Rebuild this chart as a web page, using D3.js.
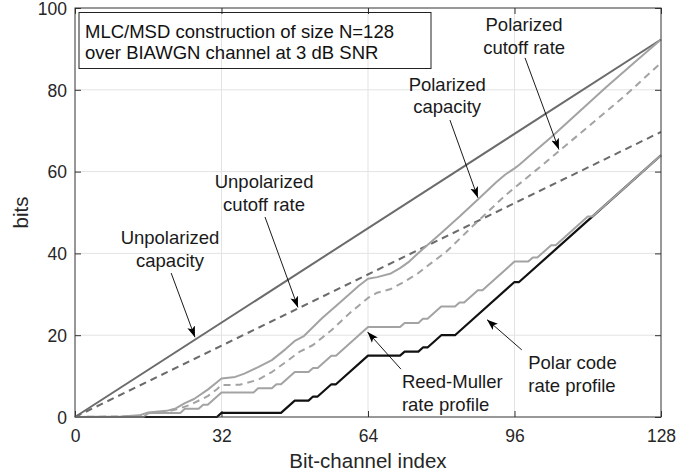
<!DOCTYPE html>
<html>
<head>
<meta charset="utf-8">
<script src="https://cdn.jsdelivr.net/npm/d3@7"></script>
<style>
  body { margin: 0; background: #fff; }
  text { font-family: "Liberation Sans", Arial, Helvetica, sans-serif; }
</style>
</head>
<body>
<div class="mainDiv"></div>
<script>
// tick labels
const xTicks = [0, 32, 64, 96, 128];
const yTicks = [0, 20, 40, 60, 80, 100];

// series, [bit-channel index, bits]
const unpolCapacity = [[0, 0], [128, 92.3]];
const unpolCutoff = [[0, 0], [128, 69.7]];
const polCapacity = [[0, 0], [10, 0.1], [14, 0.4], [16, 1.1], [20, 1.5], [22, 2.1], [24, 3.4], [26, 4.4],
  [29, 6.7], [31, 8.5], [32, 9.4], [35, 9.8], [37, 10.6], [40, 12.2], [43, 13.9], [46, 16.6], [48, 18.6],
  [50, 19.8], [54, 24.2], [58, 28.1], [62, 32.1], [64, 33.8], [66, 34.2], [69, 35.1], [71, 36.4], [73, 38],
  [75, 40.1], [80, 45], [84, 49], [88, 53.2], [92, 57.4], [94, 59.3], [96, 60.8], [97, 61.6], [101, 65.5],
  [104, 68.4], [110, 74.5], [116, 80.6], [122, 86.5], [128, 92.3]];
const polCutoff = [[0, 0], [14, 0.2], [16, 0.9], [20, 1.3], [22, 1.8], [25, 2.9], [29, 5.1], [31, 6.8],
  [32, 7.8], [36, 7.9], [40, 9.1], [43, 11], [46, 13.4], [49, 15.9], [52, 17.6], [56, 21.2], [60, 25.4],
  [64, 29.1], [66, 30.4], [69, 31.3], [72, 33.1], [75, 35.2], [78, 37.8], [81, 40.3], [87, 46.8],
  [94, 54.2], [101, 60.6], [107, 66.2], [114, 72.8], [120, 78.4], [128, 86.6]];
const rmProfile = [[0, 0], [15, 0], [16, 1], [23, 1], [24, 2], [27, 2], [28, 3], [29, 3], [32, 6], [39, 6],
  [40, 7], [43, 7], [44, 8], [45, 8], [48, 11], [51, 11], [52, 12], [53, 12], [56, 15], [57, 15], [64, 22],
  [71, 22], [72, 23], [75, 23], [76, 24], [77, 24], [80, 27], [83, 27], [84, 28], [85, 28], [88, 31],
  [89, 31], [96, 38], [99, 38], [100, 39], [101, 39], [104, 42], [105, 42], [112, 49], [113, 49], [128, 64]];
const polarProfile = [[0, 0], [31, 0], [32, 1], [45, 1], [48, 4], [51, 4], [52, 5], [53, 5], [56, 8],
  [57, 8], [64, 15], [71, 15], [72, 16], [75, 16], [76, 17], [77, 17], [80, 20], [83, 20], [96, 33],
  [97, 33], [112, 48], [113, 49], [128, 64]];

const boxLines = ["MLC/MSD construction of size N=128", "over BIAWGN channel at 3 dB SNR"];

const width = 694, height = 476;
const margin = { top: 8, right: 33, bottom: 59, left: 75 };
const fontSize = 18.5;
const tickFont = 17.5;

const svg = d3.select('.mainDiv').append('svg')
  .attr('width', width).attr('height', height);

const x = d3.scaleLinear().domain([0, 128]).range([margin.left, width - margin.right]);
const y = d3.scaleLinear().domain([0, 100]).range([height - margin.bottom, margin.top]);

// grid
svg.append('g').selectAll('line')
  .data(xTicks.slice(1, -1))
  .join('line')
  .attr('x1', d => x(d)).attr('x2', d => x(d))
  .attr('y1', y(0)).attr('y2', y(100))
  .attr('stroke', '#e3e3e3').attr('stroke-width', 1);
svg.append('g').selectAll('line')
  .data(yTicks.slice(1, -1))
  .join('line')
  .attr('x1', x(0)).attr('x2', x(128))
  .attr('y1', d => y(d)).attr('y2', d => y(d))
  .attr('stroke', '#e3e3e3').attr('stroke-width', 1);

// axes, ticks pointing inward
const axisColor = '#333';
function styleAxis(g) {
  g.select('.domain').remove();
  g.selectAll('.tick line').attr('stroke', axisColor);
  g.selectAll('.tick text')
    .attr('fill', '#262626')
    .style('font-size', tickFont + 'px')
    .style('font-family', '"Liberation Sans", Arial, sans-serif');
}
svg.append('g')
  .attr('transform', `translate(0,${y(0)})`)
  .call(d3.axisBottom(x).tickValues(xTicks).tickSizeInner(-6).tickSizeOuter(0).tickPadding(13))
  .call(styleAxis);
svg.append('g')
  .attr('transform', `translate(${x(0)},0)`)
  .call(d3.axisLeft(y).tickValues(yTicks).tickSizeInner(-6).tickSizeOuter(0).tickPadding(8))
  .call(styleAxis)
  .selectAll('.tick text').attr('dy', '0.36em');
svg.append('g')
  .attr('transform', `translate(0,${y(100)})`)
  .call(d3.axisTop(x).tickValues(xTicks).tickSizeInner(-6).tickSizeOuter(0).tickFormat(''))
  .call(styleAxis);
svg.append('g')
  .attr('transform', `translate(${x(128)},0)`)
  .call(d3.axisRight(y).tickValues(yTicks).tickSizeInner(-6).tickSizeOuter(0).tickFormat(''))
  .call(styleAxis);

// curves
const line = d3.line().x(d => x(d[0])).y(d => y(d[1]));
const series = [
  { data: unpolCapacity, color: '#6b6b6b', dash: null, w: 2 },
  { data: unpolCutoff, color: '#6b6b6b', dash: '7,5', w: 2 },
  { data: polCapacity, color: '#a3a3a3', dash: null, w: 2 },
  { data: polCutoff, color: '#a3a3a3', dash: '7,5', w: 2 },
  { data: polarProfile, color: '#111', dash: null, w: 2.2 },
  { data: rmProfile, color: '#a3a3a3', dash: null, w: 2 }
];
svg.append('g').selectAll('path')
  .data(series)
  .join('path')
  .attr('d', d => line(d.data))
  .attr('fill', 'none')
  .attr('stroke', d => d.color)
  .attr('stroke-width', d => d.w)
  .attr('stroke-dasharray', d => d.dash)
  .attr('stroke-linejoin', 'round');

// frame
svg.append('rect')
  .attr('x', x(0)).attr('y', y(100))
  .attr('width', x(128) - x(0)).attr('height', y(0) - y(100))
  .attr('fill', 'none').attr('stroke', axisColor).attr('stroke-width', 1);

// text box
const box = svg.append('g').attr('transform', `translate(${x(0) + 4},${y(100) + 4.5})`);
box.append('rect')
  .attr('width', 352).attr('height', 56)
  .attr('fill', 'none').attr('stroke', '#222').attr('stroke-width', 1);
box.selectAll('text')
  .data(boxLines)
  .join('text')
  .attr('x', 6).attr('y', (d, i) => 25.5 + i * 20.5)
  .style('font-size', fontSize + 'px')
  .attr('fill', '#111')
  .text(d => d);

// annotations: label position, arrow start and tip in data units
const notes = [
  { lines: ['Unpolarized', 'capacity'], at: [20.75, 42.3], anchor: 'middle', from: [21, 35.2], to: [26.2, 19.5] },
  { lines: ['Unpolarized', 'cutoff rate'], at: [41.3, 56], anchor: 'middle', from: [41.5, 48.9], to: [48.7, 26.8] },
  { lines: ['Polarized', 'capacity'], at: [81.3, 79.8], anchor: 'middle', from: [81.9, 72.6], to: [88, 53.6] },
  { lines: ['Polarized', 'cutoff rate'], at: [98.1, 94.4], anchor: 'middle', from: [98.3, 87.8], to: [105.7, 65.4] },
  { lines: ['Reed-Muller', 'rate profile'], at: [71.4, 7.0], anchor: 'start', from: [71.2, 11.7], to: [63.9, 20.8] },
  { lines: ['Polar code', 'rate profile'], at: [99, 11.7], anchor: 'start', from: [97.6, 16.4], to: [90, 23.8] }
];

svg.append('defs').append('marker')
  .attr('id', 'head')
  .attr('markerUnits', 'userSpaceOnUse')
  .attr('viewBox', '0 -5 12 10')
  .attr('refX', 11).attr('refY', 0)
  .attr('markerWidth', 12).attr('markerHeight', 10)
  .attr('orient', 'auto')
  .append('path')
  .attr('d', 'M0,-4L11,0L0,4L2.5,0Z')
  .attr('fill', '#000');

const noteG = svg.append('g').selectAll('g')
  .data(notes)
  .join('g');
noteG.append('line')
  .attr('x1', d => x(d.from[0])).attr('y1', d => y(d.from[1]))
  .attr('x2', d => x(d.to[0])).attr('y2', d => y(d.to[1]))
  .attr('stroke', '#000').attr('stroke-width', 0.9)
  .attr('marker-end', 'url(#head)');
noteG.each(function (d) {
  d3.select(this).selectAll('text')
    .data(d.lines)
    .join('text')
    .attr('x', x(d.at[0]))
    .attr('y', (t, i) => y(d.at[1]) + i * 22.7)
    .attr('text-anchor', d.anchor)
    .style('font-size', fontSize + 'px')
    .attr('fill', '#1a1a1a')
    .text(t => t);
});

// axis labels
svg.append('text')
  .attr('x', (x(0) + x(128)) / 2).attr('y', 467.5)
  .attr('text-anchor', 'middle')
  .style('font-size', '20.5px')
  .attr('fill', '#262626')
  .text('Bit-channel index');
svg.append('text')
  .attr('transform', `translate(28,${(y(0) + y(100)) / 2}) rotate(-90)`)
  .attr('text-anchor', 'middle')
  .style('font-size', '20.5px')
  .attr('fill', '#262626')
  .text('bits');
</script>
</body>
</html>
